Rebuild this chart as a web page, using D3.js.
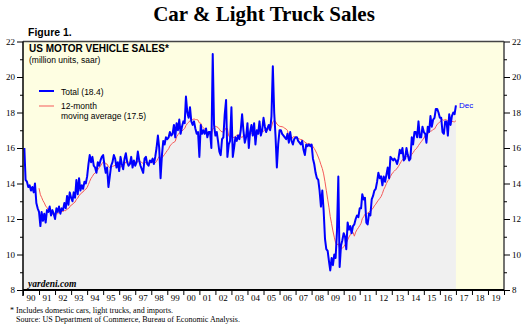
<!DOCTYPE html>
<html>
<head>
<meta charset="utf-8">
<script src="https://cdn.jsdelivr.net/npm/d3@7"></script>
<style>
  body { margin: 0; background: #fff; }
</style>
</head>
<body>
<div id="chart"></div>
<script>
// monthly total motor vehicle sales, million units saar, Jan 1990 .. Dec 2016
const firstYear = 1990;
const totalSales = [
  16.0, 14.2, 14.1, 13.8, 13.9, 13.6, 13.8, 13.5, 14.0, 12.9, 12.6, 12.4, // 1990
  11.6, 12.4, 11.9, 12.3, 11.8, 12.5, 12.4, 12.7, 12.2, 12.5, 12.3, 12.0, // 1991
  12.6, 12.4, 12.7, 12.3, 12.6, 12.5, 12.9, 12.6, 13.3, 12.8, 13.5, 13.2, // 1992
  13.0, 13.5, 13.2, 14.2, 13.4, 14.3, 13.6, 13.9, 13.7, 14.1, 14.0, 14.4, // 1993
  15.1, 15.6, 15.2, 15.5, 15.0, 14.9, 14.6, 15.2, 15.0, 15.3, 15.5, 15.6, // 1994
  15.0, 14.6, 14.9, 13.8, 14.4, 15.0, 15.2, 15.6, 15.4, 14.9, 15.2, 14.7, // 1995
  15.5, 15.1, 14.8, 15.4, 15.7, 15.2, 15.0, 15.1, 15.5, 14.9, 15.3, 15.0, // 1996
  15.2, 15.8, 15.3, 15.0, 14.8, 14.6, 15.4, 15.5, 15.1, 15.0, 15.3, 15.2, // 1997
  15.4, 15.1, 15.5, 16.0, 16.7, 16.0, 14.3, 15.6, 16.4, 16.2, 16.6, 16.5, // 1998
  16.6, 16.9, 16.7, 16.8, 17.3, 16.6, 17.4, 17.0, 17.6, 16.8, 17.2, 17.5, // 1999
  17.4, 18.9, 18.0, 17.7, 18.3, 17.5, 17.3, 17.5, 17.1, 16.8, 16.9, 15.5, // 2000
  17.3, 16.8, 17.0, 16.8, 17.1, 16.6, 16.9, 16.9, 16.0, 21.3, 17.3, 16.7, // 2001
  16.9, 16.4, 15.8, 15.6, 16.5, 16.6, 17.9, 18.7, 15.5, 16.2, 16.4, 18.3, // 2002
  15.5, 16.0, 16.6, 16.4, 16.7, 16.5, 17.0, 17.9, 17.0, 16.3, 16.6, 17.4, // 2003
  16.0, 16.9, 17.3, 16.7, 17.4, 16.2, 17.0, 16.8, 17.5, 16.7, 17.0, 17.7, // 2004
  17.2, 16.9, 17.1, 17.3, 17.0, 17.8, 20.6, 18.0, 16.7, 14.9, 16.2, 17.0, // 2005
  17.0, 16.8, 16.7, 16.6, 16.5, 16.8, 16.3, 16.9, 16.4, 16.2, 16.5, 16.6, // 2006
  16.6, 16.4, 16.3, 16.2, 16.4, 15.9, 15.6, 16.2, 16.1, 16.2, 16.1, 16.2, // 2007
  15.4, 15.1, 14.6, 14.3, 14.2, 13.6, 12.7, 13.6, 12.5, 10.9, 10.3, 10.2, // 2008
   9.6,  9.1,  9.8,  9.4, 10.0,  9.8, 11.3, 14.4,  9.3, 10.5, 10.8, 11.2, // 2009
  11.0, 10.3, 11.8, 11.4, 11.6, 11.2, 11.6, 11.7, 12.0, 12.2, 12.1, 12.6, // 2010
  12.6, 13.4, 13.1, 13.2, 11.8, 11.7, 12.3, 12.2, 13.1, 13.3, 13.6, 13.7, // 2011
  14.1, 14.6, 14.3, 14.4, 13.9, 14.4, 14.1, 14.5, 14.9, 14.3, 15.5, 15.4, // 2012
  15.3, 15.4, 15.3, 15.1, 15.4, 15.9, 15.7, 16.0, 15.3, 15.4, 16.0, 15.6, // 2013
  15.3, 15.4, 16.6, 16.2, 16.9, 16.9, 16.6, 17.5, 16.6, 16.6, 17.2, 16.9, // 2014
  16.8, 16.3, 17.2, 16.9, 17.8, 17.2, 17.6, 17.7, 18.2, 18.2, 18.0, 17.7, // 2015
  17.7, 16.9, 16.8, 17.5, 17.5, 16.7, 17.9, 17.3, 17.8, 18.0, 17.9, 18.4  // 2016
];
const yearLabels = ["90","91","92","93","94","95","96","97","98","99",
                    "00","01","02","03","04","05","06","07","08","09",
                    "10","11","12","13","14","15","16","17","18","19"];
const yMajorTicks = [8, 10, 12, 14, 16, 18, 20, 22];
const yMinorTicks = [9, 11, 13, 15, 17, 19, 21];
const legendLabels = ["Total (18.4)", "12-month", "moving average (17.5)"];

const W = 530, H = 332;
const plotLeft = 23, plotRight = 504, plotTop = 41.5, plotBottom = 290;

const svg = d3.select("#chart").append("svg")
    .attr("width", W)
    .attr("height", H);

const x = d3.scaleTime()
    .domain([new Date(firstYear, 0, 1), new Date(firstYear + yearLabels.length, 0, 1)])
    .range([plotLeft, plotRight]);

const y = d3.scaleLinear()
    .domain([8, 22])
    .range([plotBottom, plotTop]);

// each monthly value is plotted at the end of its month
const points = totalSales.map((v, i) => ({ date: new Date(firstYear, i + 1, 1), v: v }));

// 12-month trailing average of the monthly values
const avgPoints = points.slice(11).map((p, k) => ({
    date: p.date,
    v: d3.mean(totalSales.slice(k, k + 12))
}));

// plot background
svg.append("rect")
    .attr("x", plotLeft).attr("y", plotTop)
    .attr("width", plotRight - plotLeft).attr("height", plotBottom - plotTop)
    .attr("fill", "#fefee2");

const area = d3.area()
    .x(d => x(d.date))
    .y0(y(8))
    .y1(d => y(d.v));

svg.append("path")
    .datum([{ date: x.domain()[0], v: totalSales[0] }].concat(points))
    .attr("fill", "#f0f0f0")
    .attr("d", area);

const line = d3.line()
    .x(d => x(d.date))
    .y(d => y(d.v));

svg.append("path")
    .datum(avgPoints)
    .attr("fill", "none")
    .attr("stroke", "#f55a5a")
    .attr("stroke-width", 1)
    .attr("d", line);

svg.append("path")
    .datum(points)
    .attr("fill", "none")
    .attr("stroke", "#0000ff")
    .attr("stroke-width", 2)
    .attr("stroke-linejoin", "round")
    .attr("d", line);

// frame
svg.append("line").attr("x1", plotLeft).attr("x2", plotRight).attr("y1", plotTop).attr("y2", plotTop)
    .attr("stroke", "#444").attr("stroke-width", 1.5);
svg.append("line").attr("x1", plotRight).attr("x2", plotRight).attr("y1", plotTop).attr("y2", plotBottom)
    .attr("stroke", "#444").attr("stroke-width", 1.5);
svg.append("line").attr("x1", plotLeft).attr("x2", plotLeft).attr("y1", plotTop).attr("y2", plotBottom + 6)
    .attr("stroke", "#000").attr("stroke-width", 1.5);
svg.append("line").attr("x1", plotLeft).attr("x2", plotRight).attr("y1", plotBottom).attr("y2", plotBottom)
    .attr("stroke", "#000").attr("stroke-width", 2);

// axes
function styleAxis(g) {
    g.select(".domain").remove();
    g.selectAll("line").attr("stroke", "#000");
    g.selectAll("text")
        .attr("font-family", "Liberation Serif, Times New Roman, serif")
        .attr("font-size", "9px")
        .attr("fill", "#000");
}

svg.append("g")
    .attr("transform", "translate(" + plotLeft + ",0)")
    .call(d3.axisLeft(y).tickValues(yMajorTicks).tickSize(6).tickPadding(2))
    .call(styleAxis);
svg.append("g")
    .attr("transform", "translate(" + plotLeft + ",0)")
    .call(d3.axisLeft(y).tickValues(yMinorTicks).tickSize(3).tickFormat(""))
    .call(styleAxis);
svg.append("g")
    .attr("transform", "translate(" + plotRight + ",0)")
    .call(d3.axisRight(y).tickValues(yMajorTicks).tickSize(6).tickPadding(2))
    .call(styleAxis);
svg.append("g")
    .attr("transform", "translate(" + plotRight + ",0)")
    .call(d3.axisRight(y).tickValues(yMinorTicks).tickSize(3).tickFormat(""))
    .call(styleAxis);

const yearStarts = d3.range(yearLabels.length + 1).map(k => new Date(firstYear + k, 0, 1));
svg.append("g")
    .attr("transform", "translate(0," + plotBottom + ")")
    .call(d3.axisBottom(x).tickValues(yearStarts).tickSize(5).tickFormat(""))
    .call(styleAxis);

svg.append("g").selectAll("text")
    .data(yearLabels)
    .enter()
    .append("text")
    .attr("x", (d, k) => x(new Date(firstYear + k, 6, 1)))
    .attr("y", 301)
    .attr("text-anchor", "middle")
    .attr("font-family", "Liberation Serif, Times New Roman, serif")
    .attr("font-size", "9px")
    .text(d => d);

// titles
svg.append("text")
    .attr("x", 264).attr("y", 21)
    .attr("text-anchor", "middle")
    .attr("font-family", "Liberation Serif, Times New Roman, serif")
    .attr("font-weight", "bold")
    .attr("font-size", "21px")
    .text("Car & Light Truck Sales");

svg.append("text")
    .attr("x", 28).attr("y", 36)
    .attr("font-family", "Liberation Sans, Arial, sans-serif")
    .attr("font-weight", "bold")
    .attr("font-size", "10.5px")
    .text("Figure 1.");

svg.append("text")
    .attr("x", 29).attr("y", 52)
    .attr("font-family", "Liberation Sans, Arial, sans-serif")
    .attr("font-weight", "bold")
    .attr("font-size", "10px")
    .text("US MOTOR VEHICLE SALES*");

svg.append("text")
    .attr("x", 29).attr("y", 63)
    .attr("font-family", "Liberation Sans, Arial, sans-serif")
    .attr("font-size", "8.5px")
    .text("(million units, saar)");

// legend
svg.append("line").attr("x1", 39).attr("x2", 54).attr("y1", 91).attr("y2", 91)
    .attr("stroke", "#0000ff").attr("stroke-width", 2);
svg.append("line").attr("x1", 39).attr("x2", 54).attr("y1", 106).attr("y2", 106)
    .attr("stroke", "#f55a5a").attr("stroke-width", 1);

svg.append("g").selectAll("text")
    .data(legendLabels)
    .enter()
    .append("text")
    .attr("x", 61)
    .attr("y", (d, k) => [94.5, 109, 119][k])
    .attr("font-family", "Liberation Sans, Arial, sans-serif")
    .attr("font-size", "8.5px")
    .text(d => d);

svg.append("text")
    .attr("x", x(points[points.length - 1].date) + 3)
    .attr("y", 108)
    .attr("fill", "#0000ff")
    .attr("font-family", "Liberation Sans, Arial, sans-serif")
    .attr("font-size", "8px")
    .text("Dec");

svg.append("text")
    .attr("x", 28).attr("y", 287)
    .attr("font-family", "Liberation Serif, Times New Roman, serif")
    .attr("font-weight", "bold")
    .attr("font-style", "italic")
    .attr("font-size", "9.5px")
    .text("yardeni.com");

// footnotes
svg.append("text")
    .attr("x", 10).attr("y", 313)
    .attr("font-family", "Liberation Serif, Times New Roman, serif")
    .attr("font-size", "8px")
    .text("*");
svg.append("text")
    .attr("x", 16).attr("y", 313)
    .attr("font-family", "Liberation Serif, Times New Roman, serif")
    .attr("font-size", "8px")
    .text("Includes domestic cars, light trucks, and imports.");
svg.append("text")
    .attr("x", 16).attr("y", 322)
    .attr("font-family", "Liberation Serif, Times New Roman, serif")
    .attr("font-size", "8px")
    .text("Source: US Department of Commerce, Bureau of Economic Analysis.");
</script>
</body>
</html>
